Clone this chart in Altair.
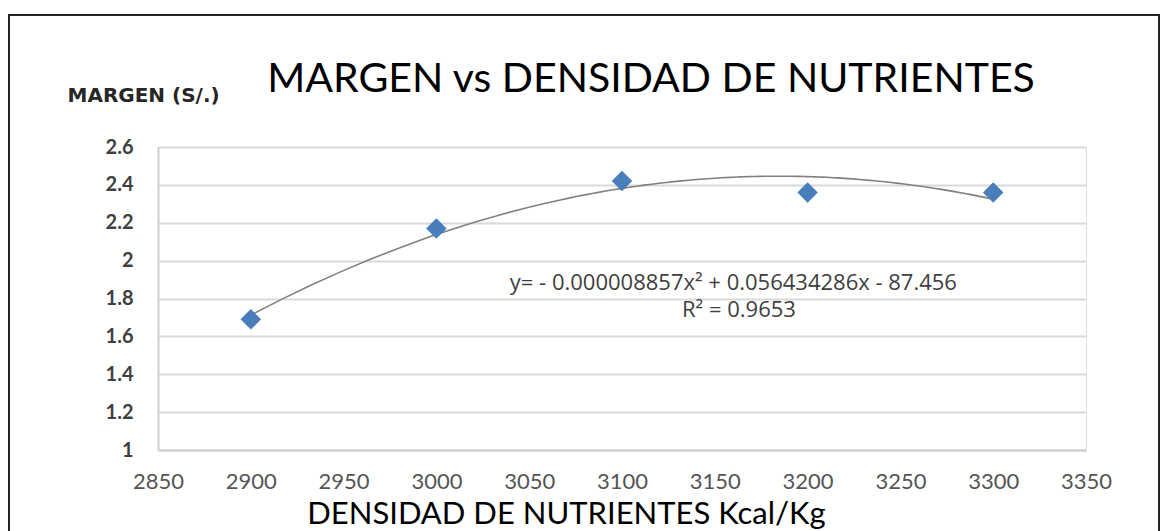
import altair as alt
import pandas as pd

densidad = [2900, 3000, 3100, 3200, 3300]
margen = [1.69, 2.17, 2.42, 2.36, 2.36]

x_ticks = [2850, 2900, 2950, 3000, 3050, 3100, 3150, 3200, 3250, 3300, 3350]
y_ticks = [1, 1.2, 1.4, 1.6, 1.8, 2, 2.2, 2.4, 2.6]

titulo = "MARGEN vs DENSIDAD DE NUTRIENTES"
eje_x = "DENSIDAD DE NUTRIENTES Kcal/Kg"
eje_y = "MARGEN (S/.)"
ecuacion = ["y= - 0.000008857x² + 0.056434286x - 87.456", "R² = 0.9653"]
ec_x = [3160, 3163]
ec_y = [1.882, 1.739]

df = pd.DataFrame({"x": densidad, "y": margen})
df_ec = pd.DataFrame({"x": ec_x, "y": ec_y, "t": ecuacion})
df_title = pd.DataFrame({"t": [titulo]})

FONT = "Lato"

xs = alt.Scale(domain=[2850, 3350], nice=False, zero=False)
ys = alt.Scale(domain=[1, 2.6], nice=False, zero=False)

x_axis = alt.Axis(
    values=x_ticks, format="d", grid=False, ticks=False, title=eje_x,
    labelFont=FONT, labelFontSize=22, labelColor="#555555",
    labelBaseline="middle", labelPadding=31, labelOverlap=False, labelFlush=False,
    domainColor="#cfcfcf", domainWidth=2,
    titleFont=FONT, titleFontSize=31, titleFontWeight="normal", titleColor="#000000",
    titleX=408, titleY=64, titleAlign="center", titleBaseline="middle", titleAnchor="start",
)
y_axis = alt.Axis(
    values=y_ticks, tickCount=9, format=".1~f", grid=True, gridColor="#d9d9d9", gridWidth=2,
    ticks=False, labelFont=FONT, labelFontSize=20, labelFontWeight="bold",
    labelColor="#404040", labelPadding=25, labelOverlap=False, labelFlush=False,
    domainColor="#cfcfcf", domainWidth=2,
    title=eje_y, titleAngle=0, titleFont="DejaVu Sans", titleFontSize=20, titleFontWeight="bold",
    titleColor="#262626", titleX=-91, titleY=-52, titleAlign="left", titleBaseline="middle",
    titleAnchor="start",
)

X = alt.X("x:Q", scale=xs, axis=x_axis)
Y = alt.Y("y:Q", scale=ys, axis=y_axis)

base = alt.Chart(df)

trend = base.transform_regression(
    "x", "y", method="poly", order=2, extent=[2900, 3300]
).mark_line(color="#808080", strokeWidth=1.6).encode(x=X, y=Y)

points = base.mark_point(shape="diamond", filled=True, size=420, color="#4a7ebb", opacity=1).encode(x=X, y=Y)

eq = alt.Chart(df_ec).mark_text(font="Open Sans", fontSize=22, color="#404040", align="center", baseline="middle").encode(
    x=X, y=Y, text="t:N",
)

title = alt.Chart(df_title).mark_text(font=FONT, fontSize=41, color="#000000", align="center", baseline="middle").encode(
    x=alt.value(493), y=alt.value(-67), text="t:N"
)

border = alt.Chart(df_title).mark_rect(fill=None, stroke="#222222", strokeWidth=2).encode(
    x=alt.value(-149), x2=alt.value(1001), y=alt.value(-132), y2=alt.value(450)
)

chart = alt.layer(trend, points, eq, title, border).properties(
    width=928, height=303,
    padding={"left": 150, "top": 139, "right": 75, "bottom": 81},
    autosize=alt.AutoSizeParams(type="none"),
).configure_view(stroke=None).configure(background="white")

chart.save("out.html", embed_options={"renderer": "svg", "actions": False})
